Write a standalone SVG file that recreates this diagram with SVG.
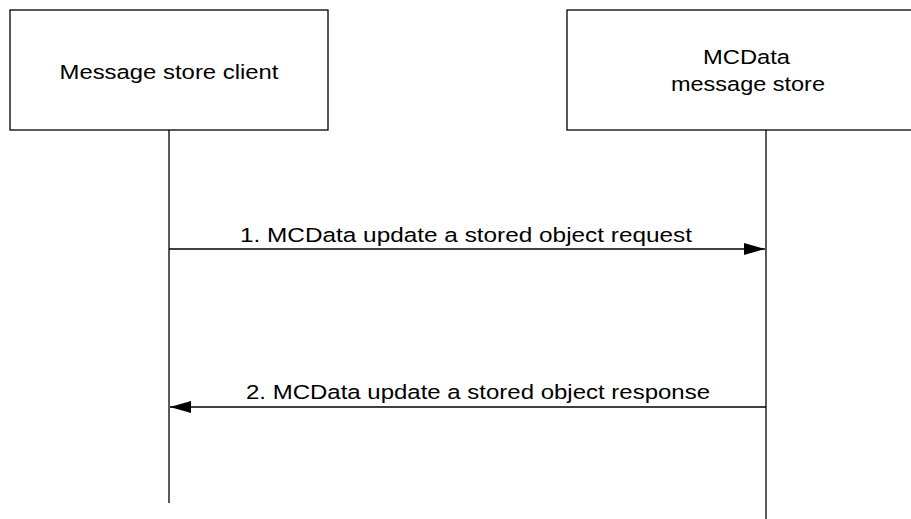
<svg xmlns="http://www.w3.org/2000/svg" width="911" height="519" viewBox="0 0 911 519">
<style>
.box{fill:#fff;stroke:#000;stroke-width:1.3}
.life{stroke:#000;stroke-width:1.3;fill:none}
.msg{stroke:#000;stroke-width:1.3;fill:none}
text{font-family:"Liberation Sans",Arial,sans-serif;font-size:20.5px;fill:#000;text-anchor:middle}
</style>
<defs>
<marker id="ah" markerWidth="21" markerHeight="12" refX="21" refY="6" orient="auto" markerUnits="userSpaceOnUse">
<path d="M0,0 L21,6 L0,12 Z" fill="#000"/>
</marker>
</defs>
<g id="client">
<rect class="box" x="10" y="10" width="318" height="120"/>
<text x="169" y="79" textLength="219" lengthAdjust="spacingAndGlyphs">Message store client</text>
</g>
<g id="store">
<rect class="box" x="567" y="10" width="398" height="120"/>
<text x="746.5" y="64" textLength="87" lengthAdjust="spacingAndGlyphs">MCData</text>
<text x="748" y="91" textLength="154" lengthAdjust="spacingAndGlyphs">message store</text>
</g>
<g id="connectors">
<line class="life" x1="169" y1="130" x2="169" y2="503"/>
<line class="life" x1="766" y1="130" x2="766" y2="519"/>
<line class="msg" x1="169" y1="249" x2="765" y2="249" marker-end="url(#ah)"/>
<text x="466" y="242" textLength="452" lengthAdjust="spacingAndGlyphs">1. MCData update a stored object request</text>
<line class="msg" x1="766" y1="407" x2="170" y2="407" marker-end="url(#ah)"/>
<text x="478" y="399" textLength="464" lengthAdjust="spacingAndGlyphs">2. MCData update a stored object response</text>
</g>
</svg>
